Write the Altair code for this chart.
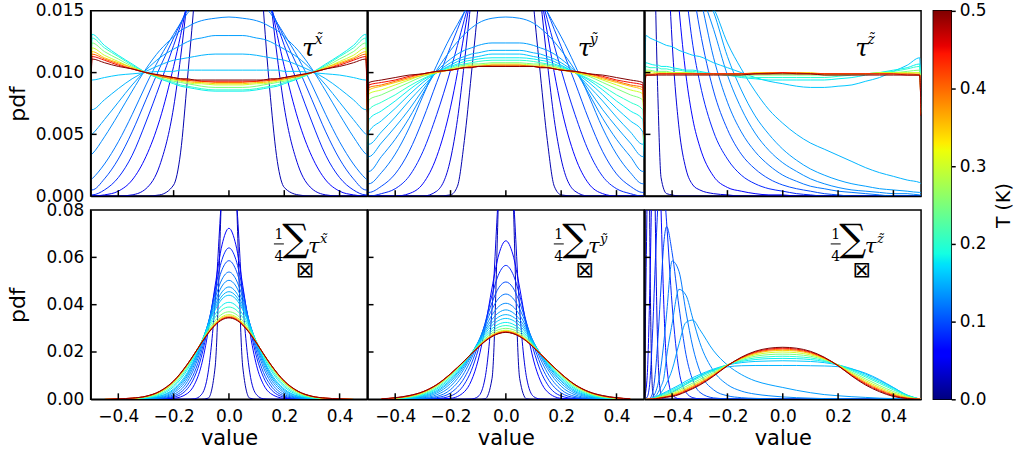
import altair as alt
import pandas as pd

# ---------------- data ----------------
T_VALUES = [0.02, 0.04, 0.06, 0.08, 0.10, 0.12, 0.13, 0.14, 0.15, 0.16,
            0.18, 0.20, 0.25, 0.30, 0.35, 0.40, 0.45, 0.50]

X_TOP = [-0.5, -0.495, -0.45, -0.4, -0.35, -0.3, -0.25, -0.2, -0.175, -0.15,
         -0.125, -0.1, -0.05, 0.0, 0.05, 0.1, 0.125, 0.15, 0.175, 0.2, 0.25,
         0.3, 0.35, 0.4, 0.45, 0.495, 0.5]

PDF_TAU_X = [
    [0, 0, 0, 0, 0, 0, 0.0001, 0.0009, 0.0035, 0.0095, 0.016, 0.024, 0.035, 0.04, 0.035, 0.024, 0.015, 0.008, 0.0028, 0.0007, 0.0001, 0, 0, 0, 0, 0, 0],
    [0, 0, 0, 0, 0.0001, 0.0006, 0.0025, 0.0072, 0.0112, 0.016, 0.021, 0.026, 0.033, 0.036, 0.033, 0.026, 0.021, 0.016, 0.0112, 0.0072, 0.0025, 0.0006, 0.0001, 0, 0, 0, 0],
    [0, 0, 0.0001, 0.0004, 0.0013, 0.0032, 0.0062, 0.0105, 0.013, 0.0158, 0.0185, 0.021, 0.026, 0.028, 0.026, 0.021, 0.0185, 0.0158, 0.013, 0.0105, 0.0062, 0.0032, 0.0013, 0.0004, 0.0001, 0, 0],
    [0.0001, 0.0001, 0.0005, 0.0015, 0.0033, 0.006, 0.009, 0.0122, 0.0138, 0.0154, 0.017, 0.0185, 0.021, 0.022, 0.021, 0.0185, 0.017, 0.0154, 0.0138, 0.0122, 0.009, 0.006, 0.0033, 0.0015, 0.0005, 0.0001, 0.0001],
    [0.0005, 0.0005, 0.0014, 0.003, 0.0052, 0.0078, 0.0104, 0.0128, 0.014, 0.0151, 0.0161, 0.017, 0.0184, 0.019, 0.0184, 0.017, 0.0161, 0.0151, 0.014, 0.0128, 0.0104, 0.0078, 0.0052, 0.003, 0.0014, 0.0005, 0.0005],
    [0.0013, 0.0014, 0.0026, 0.0044, 0.0066, 0.009, 0.0112, 0.0131, 0.014, 0.0148, 0.0155, 0.0161, 0.017, 0.0172, 0.017, 0.0161, 0.0155, 0.0148, 0.014, 0.0131, 0.0112, 0.009, 0.0066, 0.0044, 0.0026, 0.0014, 0.0013],
    [0.0033, 0.0034, 0.0048, 0.0066, 0.0085, 0.0103, 0.0118, 0.0129, 0.0134, 0.0137, 0.014, 0.0142, 0.0144, 0.0145, 0.0144, 0.0142, 0.014, 0.0137, 0.0134, 0.0129, 0.0118, 0.0103, 0.0085, 0.0066, 0.0048, 0.0034, 0.0033],
    [0.0049, 0.005, 0.0062, 0.0076, 0.009, 0.0102, 0.0112, 0.0119, 0.0122, 0.0125, 0.0127, 0.0128, 0.013, 0.013, 0.013, 0.0128, 0.0127, 0.0125, 0.0122, 0.0119, 0.0112, 0.0102, 0.009, 0.0076, 0.0062, 0.005, 0.0049],
    [0.007, 0.007, 0.0078, 0.0087, 0.0095, 0.0101, 0.0106, 0.011, 0.0111, 0.0112, 0.0113, 0.0114, 0.0115, 0.0115, 0.0115, 0.0114, 0.0113, 0.0112, 0.0111, 0.011, 0.0106, 0.0101, 0.0095, 0.0087, 0.0078, 0.007, 0.007],
    [0.0094, 0.0094, 0.0096, 0.0098, 0.0099, 0.01, 0.0101, 0.0101, 0.0102, 0.0102, 0.0102, 0.0102, 0.0102, 0.0102, 0.0102, 0.0102, 0.0102, 0.0102, 0.0102, 0.0101, 0.0101, 0.01, 0.0099, 0.0098, 0.0096, 0.0094, 0.0094],
    [0.0072, 0.0131, 0.0122, 0.0114, 0.0107, 0.01, 0.0095, 0.0091, 0.0089, 0.0088, 0.0087, 0.0086, 0.0085, 0.0085, 0.0085, 0.0086, 0.0087, 0.0088, 0.0089, 0.0091, 0.0095, 0.01, 0.0107, 0.0114, 0.0122, 0.0131, 0.0072],
    [0.0072, 0.0128, 0.012, 0.0113, 0.0106, 0.01, 0.0095, 0.0092, 0.009, 0.0089, 0.0088, 0.0087, 0.0086, 0.0086, 0.0086, 0.0087, 0.0088, 0.0089, 0.009, 0.0092, 0.0095, 0.01, 0.0106, 0.0113, 0.012, 0.0128, 0.0072],
    [0.0071, 0.0124, 0.0117, 0.0111, 0.0105, 0.01, 0.0096, 0.0093, 0.0092, 0.0091, 0.009, 0.0089, 0.0088, 0.0088, 0.0088, 0.0089, 0.009, 0.0091, 0.0092, 0.0093, 0.0096, 0.01, 0.0105, 0.0111, 0.0117, 0.0124, 0.0071],
    [0.007, 0.012, 0.0114, 0.0109, 0.0104, 0.01, 0.0097, 0.0094, 0.0093, 0.0092, 0.0091, 0.0091, 0.009, 0.009, 0.009, 0.0091, 0.0091, 0.0092, 0.0093, 0.0094, 0.0097, 0.01, 0.0104, 0.0109, 0.0114, 0.012, 0.007],
    [0.007, 0.0117, 0.0112, 0.0108, 0.0104, 0.01, 0.0097, 0.0095, 0.0094, 0.0093, 0.0092, 0.0092, 0.0091, 0.0091, 0.0091, 0.0092, 0.0092, 0.0093, 0.0094, 0.0095, 0.0097, 0.01, 0.0104, 0.0108, 0.0112, 0.0117, 0.007],
    [0.0069, 0.0115, 0.0111, 0.0107, 0.0103, 0.01, 0.0097, 0.0095, 0.0094, 0.0094, 0.0093, 0.0093, 0.0092, 0.0092, 0.0092, 0.0093, 0.0093, 0.0094, 0.0094, 0.0095, 0.0097, 0.01, 0.0103, 0.0107, 0.0111, 0.0115, 0.0069],
    [0.0069, 0.0113, 0.011, 0.0106, 0.0103, 0.01, 0.0098, 0.0096, 0.0095, 0.0094, 0.0094, 0.0093, 0.0093, 0.0093, 0.0093, 0.0093, 0.0094, 0.0094, 0.0095, 0.0096, 0.0098, 0.01, 0.0103, 0.0106, 0.011, 0.0113, 0.0069],
    [0.0068, 0.0111, 0.0108, 0.0105, 0.0103, 0.01, 0.0098, 0.0096, 0.0095, 0.0095, 0.0094, 0.0094, 0.0094, 0.0094, 0.0094, 0.0094, 0.0094, 0.0095, 0.0095, 0.0096, 0.0098, 0.01, 0.0103, 0.0105, 0.0108, 0.0111, 0.0068],
]

PDF_TAU_Y = [
    [0, 0, 0, 0, 0, 0, 0, 0.0001, 0.0008, 0.0045, 0.0098, 0.0155, 0.03, 0.036, 0.03, 0.0155, 0.0098, 0.0045, 0.0008, 0.0001, 0, 0, 0, 0, 0, 0, 0],
    [0, 0, 0, 0, 0, 0, 0.0004, 0.003, 0.0062, 0.0108, 0.016, 0.021, 0.029, 0.032, 0.029, 0.021, 0.016, 0.0108, 0.0062, 0.003, 0.0004, 0, 0, 0, 0, 0, 0],
    [0, 0, 0, 0, 0.0002, 0.001, 0.0032, 0.0072, 0.01, 0.0132, 0.0165, 0.02, 0.025, 0.027, 0.025, 0.02, 0.0165, 0.0132, 0.01, 0.0072, 0.0032, 0.001, 0.0002, 0, 0, 0, 0],
    [0, 0, 0.0002, 0.0006, 0.0016, 0.0036, 0.0066, 0.0102, 0.0122, 0.0143, 0.0163, 0.0182, 0.021, 0.022, 0.021, 0.0182, 0.0163, 0.0143, 0.0122, 0.0102, 0.0066, 0.0036, 0.0016, 0.0006, 0.0002, 0, 0],
    [0.0003, 0.0003, 0.0008, 0.0018, 0.0036, 0.0062, 0.0092, 0.0121, 0.0135, 0.0149, 0.0162, 0.0173, 0.019, 0.0195, 0.019, 0.0173, 0.0162, 0.0149, 0.0135, 0.0121, 0.0092, 0.0062, 0.0036, 0.0018, 0.0008, 0.0003, 0.0003],
    [0.001, 0.001, 0.0019, 0.0034, 0.0055, 0.0081, 0.0106, 0.0129, 0.0139, 0.0149, 0.0158, 0.0165, 0.0173, 0.0175, 0.0173, 0.0165, 0.0158, 0.0149, 0.0139, 0.0129, 0.0106, 0.0081, 0.0055, 0.0034, 0.0019, 0.001, 0.001],
    [0.002, 0.002, 0.0032, 0.0046, 0.0063, 0.0083, 0.0102, 0.0118, 0.0125, 0.0131, 0.0136, 0.014, 0.0144, 0.0145, 0.0144, 0.014, 0.0136, 0.0131, 0.0125, 0.0118, 0.0102, 0.0083, 0.0063, 0.0046, 0.0032, 0.002, 0.002],
    [0.0032, 0.0032, 0.0043, 0.0056, 0.007, 0.0086, 0.0101, 0.0111, 0.0115, 0.0118, 0.012, 0.0122, 0.0124, 0.0124, 0.0124, 0.0122, 0.012, 0.0118, 0.0115, 0.0111, 0.0101, 0.0086, 0.007, 0.0056, 0.0043, 0.0032, 0.0032],
    [0.0042, 0.0042, 0.0052, 0.0064, 0.0077, 0.0089, 0.01, 0.0108, 0.0111, 0.0113, 0.0115, 0.0116, 0.0118, 0.0118, 0.0118, 0.0116, 0.0115, 0.0113, 0.0111, 0.0108, 0.01, 0.0089, 0.0077, 0.0064, 0.0052, 0.0042, 0.0042],
    [0.003, 0.0052, 0.0061, 0.0071, 0.0082, 0.0092, 0.01, 0.0106, 0.0109, 0.0111, 0.0112, 0.0113, 0.0115, 0.0115, 0.0115, 0.0113, 0.0112, 0.0111, 0.0109, 0.0106, 0.01, 0.0092, 0.0082, 0.0071, 0.0061, 0.0052, 0.003],
    [0.0036, 0.0062, 0.0069, 0.0077, 0.0086, 0.0094, 0.01, 0.0105, 0.0107, 0.0109, 0.011, 0.0111, 0.0112, 0.0112, 0.0112, 0.0111, 0.011, 0.0109, 0.0107, 0.0105, 0.01, 0.0094, 0.0086, 0.0077, 0.0069, 0.0062, 0.0036],
    [0.004, 0.007, 0.0076, 0.0082, 0.0089, 0.0095, 0.01, 0.0104, 0.0106, 0.0107, 0.0108, 0.0109, 0.011, 0.011, 0.011, 0.0109, 0.0108, 0.0107, 0.0106, 0.0104, 0.01, 0.0095, 0.0089, 0.0082, 0.0076, 0.007, 0.004],
    [0.0044, 0.0078, 0.0082, 0.0087, 0.0092, 0.0097, 0.01, 0.0103, 0.0105, 0.0106, 0.0107, 0.0107, 0.0108, 0.0108, 0.0108, 0.0107, 0.0107, 0.0106, 0.0105, 0.0103, 0.01, 0.0097, 0.0092, 0.0087, 0.0082, 0.0078, 0.0044],
    [0.0046, 0.0083, 0.0086, 0.009, 0.0094, 0.0098, 0.01, 0.0103, 0.0104, 0.0105, 0.0106, 0.0106, 0.0107, 0.0107, 0.0107, 0.0106, 0.0106, 0.0105, 0.0104, 0.0103, 0.01, 0.0098, 0.0094, 0.009, 0.0086, 0.0083, 0.0046],
    [0.0048, 0.0086, 0.0089, 0.0092, 0.0095, 0.0098, 0.01, 0.0102, 0.0103, 0.0104, 0.0105, 0.0105, 0.0106, 0.0106, 0.0106, 0.0105, 0.0105, 0.0104, 0.0103, 0.0102, 0.01, 0.0098, 0.0095, 0.0092, 0.0089, 0.0086, 0.0048],
    [0.0049, 0.0088, 0.009, 0.0093, 0.0096, 0.0099, 0.0101, 0.0102, 0.0103, 0.0104, 0.0105, 0.0105, 0.0106, 0.0106, 0.0106, 0.0105, 0.0105, 0.0104, 0.0103, 0.0102, 0.0101, 0.0099, 0.0096, 0.0093, 0.009, 0.0088, 0.0049],
    [0.005, 0.009, 0.0092, 0.0094, 0.0097, 0.0099, 0.0101, 0.0102, 0.0103, 0.0104, 0.0104, 0.0105, 0.0105, 0.0105, 0.0105, 0.0105, 0.0104, 0.0104, 0.0103, 0.0102, 0.0101, 0.0099, 0.0097, 0.0094, 0.0092, 0.009, 0.005],
    [0.005, 0.0092, 0.0094, 0.0096, 0.0098, 0.0099, 0.0101, 0.0102, 0.0103, 0.0104, 0.0104, 0.0105, 0.0105, 0.0105, 0.0105, 0.0105, 0.0104, 0.0104, 0.0103, 0.0102, 0.0101, 0.0099, 0.0098, 0.0096, 0.0094, 0.0092, 0.005],
]

X_TZ = [-0.5, -0.495, -0.48, -0.46, -0.45, -0.44, -0.42, -0.4, -0.375, -0.35,
        -0.325, -0.3, -0.25, -0.2, -0.15, -0.1, -0.05, 0.0, 0.05, 0.1, 0.15,
        0.2, 0.25, 0.3, 0.35, 0.4, 0.45, 0.495, 0.5]

PDF_TAU_Z = [
    [0.08, 0.08, 0.05, 0.016, 0.007, 0.0015, 0.0002, 0.0001, 0, 0, 0, 0, 0, 0, 0, 0, 0, 0, 0, 0, 0, 0, 0, 0, 0, 0, 0, 0, 0],
    [0.08, 0.08, 0.07, 0.05, 0.042, 0.035, 0.022, 0.0125, 0.0055, 0.0022, 0.0009, 0.0005, 0.0002, 0.0001, 0, 0, 0, 0, 0, 0, 0, 0, 0, 0, 0, 0, 0, 0, 0],
    [0.08, 0.08, 0.07, 0.055, 0.048, 0.042, 0.031, 0.0225, 0.0152, 0.0098, 0.0062, 0.004, 0.0016, 0.0007, 0.0004, 0.0002, 0.0001, 0.0001, 0, 0, 0, 0, 0, 0, 0, 0, 0, 0, 0],
    [0.08, 0.08, 0.06, 0.045, 0.04, 0.035, 0.029, 0.025, 0.021, 0.0165, 0.0122, 0.0092, 0.0052, 0.003, 0.0017, 0.001, 0.0006, 0.0004, 0.0002, 0.0001, 0, 0, 0, 0, 0, 0, 0, 0, 0],
    [0.07, 0.07, 0.055, 0.045, 0.041, 0.037, 0.032, 0.028, 0.024, 0.02, 0.0168, 0.0135, 0.0085, 0.0054, 0.0034, 0.0022, 0.0014, 0.0009, 0.0006, 0.0004, 0.0002, 0.0001, 0, 0, 0, 0, 0, 0, 0],
    [0.06, 0.06, 0.048, 0.04, 0.037, 0.034, 0.03, 0.027, 0.0235, 0.0205, 0.0182, 0.0162, 0.0112, 0.0076, 0.0052, 0.0036, 0.0025, 0.0017, 0.0012, 0.0008, 0.0006, 0.0004, 0.0003, 0.0002, 0.0001, 0, 0, 0, 0],
    [0.055, 0.055, 0.045, 0.038, 0.035, 0.032, 0.029, 0.026, 0.023, 0.0205, 0.0185, 0.0168, 0.0135, 0.0098, 0.0071, 0.0051, 0.0037, 0.0027, 0.002, 0.0014, 0.001, 0.0007, 0.0005, 0.0004, 0.0003, 0.0002, 0.0002, 0.0001, 0.0001],
    [0.05, 0.05, 0.042, 0.036, 0.033, 0.031, 0.028, 0.025, 0.0225, 0.0205, 0.0185, 0.0172, 0.0149, 0.0113, 0.0086, 0.0065, 0.005, 0.0038, 0.0029, 0.0022, 0.0017, 0.0013, 0.001, 0.0008, 0.0006, 0.0005, 0.0004, 0.0003, 0.0003],
    [0.045, 0.045, 0.038, 0.033, 0.031, 0.029, 0.026, 0.024, 0.0215, 0.0195, 0.0178, 0.0165, 0.0152, 0.0124, 0.0103, 0.0085, 0.007, 0.0059, 0.005, 0.0043, 0.0038, 0.0033, 0.0028, 0.0023, 0.0019, 0.0016, 0.0013, 0.0011, 0.001],
    [0.0065, 0.013, 0.0128, 0.0126, 0.0125, 0.0124, 0.0122, 0.0121, 0.0118, 0.0116, 0.0114, 0.0113, 0.0108, 0.0104, 0.01, 0.0096, 0.0093, 0.0091, 0.0089, 0.0088, 0.0088, 0.0089, 0.009, 0.0093, 0.0096, 0.0101, 0.0106, 0.0112, 0.007],
    [0.0065, 0.0108, 0.0107, 0.0106, 0.0106, 0.0105, 0.0105, 0.0104, 0.0103, 0.0102, 0.0102, 0.0101, 0.0099, 0.0098, 0.0096, 0.0095, 0.0094, 0.0094, 0.0094, 0.0094, 0.0094, 0.0095, 0.0096, 0.0098, 0.01, 0.0102, 0.0104, 0.0107, 0.0068],
    [0.0065, 0.0105, 0.0104, 0.0104, 0.0104, 0.0103, 0.0103, 0.0102, 0.0102, 0.0101, 0.0101, 0.01, 0.0099, 0.0098, 0.0097, 0.0096, 0.0096, 0.0096, 0.0096, 0.0096, 0.0096, 0.0097, 0.0098, 0.0099, 0.01, 0.0101, 0.0103, 0.0105, 0.0068],
    [0.0064, 0.0102, 0.0102, 0.0101, 0.0101, 0.0101, 0.0101, 0.01, 0.01, 0.01, 0.01, 0.0099, 0.0099, 0.0098, 0.0098, 0.0098, 0.0098, 0.0098, 0.0098, 0.0098, 0.0098, 0.0098, 0.0099, 0.0099, 0.01, 0.01, 0.0101, 0.0102, 0.0067],
    [0.0063, 0.0101, 0.0101, 0.01, 0.01, 0.01, 0.01, 0.01, 0.01, 0.01, 0.0099, 0.0099, 0.0099, 0.0099, 0.0099, 0.0099, 0.0099, 0.0099, 0.0099, 0.0099, 0.0099, 0.0099, 0.0099, 0.0099, 0.01, 0.01, 0.01, 0.01, 0.0067],
    [0.0062, 0.0099, 0.0099, 0.0099, 0.0099, 0.0099, 0.0099, 0.0099, 0.0099, 0.0099, 0.0099, 0.0099, 0.0099, 0.0099, 0.0099, 0.01, 0.01, 0.01, 0.01, 0.01, 0.0099, 0.0099, 0.0099, 0.0099, 0.0099, 0.0099, 0.0099, 0.0099, 0.0066],
    [0.0061, 0.0098, 0.0098, 0.0099, 0.0099, 0.0099, 0.0099, 0.0099, 0.0099, 0.0099, 0.0099, 0.0099, 0.0099, 0.0099, 0.0099, 0.0099, 0.01, 0.01, 0.01, 0.0099, 0.0099, 0.0099, 0.0099, 0.0099, 0.0099, 0.0099, 0.0099, 0.0098, 0.0066],
    [0.006, 0.0098, 0.0098, 0.0098, 0.0099, 0.0099, 0.0099, 0.0099, 0.0099, 0.0099, 0.0099, 0.0099, 0.0099, 0.0099, 0.0099, 0.0099, 0.0099, 0.01, 0.0099, 0.0099, 0.0099, 0.0099, 0.0099, 0.0099, 0.0099, 0.0099, 0.0098, 0.0098, 0.0065],
    [0.006, 0.0098, 0.0098, 0.0098, 0.0098, 0.0098, 0.0098, 0.0098, 0.0098, 0.0098, 0.0098, 0.0098, 0.0098, 0.0098, 0.0098, 0.0099, 0.0099, 0.0099, 0.0099, 0.0099, 0.0098, 0.0098, 0.0098, 0.0098, 0.0098, 0.0098, 0.0098, 0.0098, 0.0065],
]

X_SUM = [-0.45, -0.4, -0.35, -0.3, -0.25, -0.2, -0.15, -0.125, -0.1, -0.075,
         -0.05, -0.025, 0.0, 0.025, 0.05, 0.075, 0.1, 0.125, 0.15, 0.2, 0.25,
         0.3, 0.35, 0.4, 0.45]

PDF_SUM_X = [
    [0, 0, 0, 0, 0, 0, 0, 0, 0, 0.0005, 0.0136, 0.094, 0.18, 0.094, 0.0136, 0.0005, 0, 0, 0, 0, 0, 0, 0, 0, 0],
    [0, 0, 0, 0, 0, 0, 0, 0.0002, 0.0019, 0.0115, 0.041, 0.088, 0.114, 0.088, 0.041, 0.0115, 0.0019, 0.0002, 0, 0, 0, 0, 0, 0, 0],
    [0, 0, 0, 0, 0.0001, 0.0004, 0.0025, 0.0062, 0.0142, 0.0288, 0.048, 0.0653, 0.0723, 0.0653, 0.048, 0.0288, 0.0142, 0.0062, 0.0025, 0.0004, 0.0001, 0, 0, 0, 0],
    [0, 0, 0, 0.0001, 0.0002, 0.0009, 0.0045, 0.0093, 0.0178, 0.031, 0.0464, 0.0591, 0.064, 0.0591, 0.0464, 0.031, 0.0178, 0.0093, 0.0045, 0.0009, 0.0002, 0.0001, 0, 0, 0],
    [0, 0, 0, 0.0001, 0.0003, 0.0014, 0.006, 0.0113, 0.02, 0.0319, 0.0447, 0.0548, 0.0586, 0.0548, 0.0447, 0.0319, 0.02, 0.0113, 0.006, 0.0014, 0.0003, 0.0001, 0, 0, 0],
    [0, 0, 0, 0.0001, 0.0005, 0.002, 0.0075, 0.0133, 0.0217, 0.0322, 0.0428, 0.0508, 0.0538, 0.0508, 0.0428, 0.0322, 0.0217, 0.0133, 0.0075, 0.002, 0.0005, 0.0001, 0, 0, 0],
    [0, 0, 0.0001, 0.0002, 0.0007, 0.0027, 0.0088, 0.0147, 0.0228, 0.0322, 0.0412, 0.0479, 0.0503, 0.0479, 0.0412, 0.0322, 0.0228, 0.0147, 0.0088, 0.0027, 0.0007, 0.0002, 0.0001, 0, 0],
    [0, 0, 0.0001, 0.0003, 0.0009, 0.0033, 0.0099, 0.0158, 0.0234, 0.0319, 0.0398, 0.0454, 0.0475, 0.0454, 0.0398, 0.0319, 0.0234, 0.0158, 0.0099, 0.0033, 0.0009, 0.0003, 0.0001, 0, 0],
    [0, 0, 0.0001, 0.0004, 0.0012, 0.0039, 0.0107, 0.0166, 0.0238, 0.0316, 0.0387, 0.0437, 0.0455, 0.0437, 0.0387, 0.0316, 0.0238, 0.0166, 0.0107, 0.0039, 0.0012, 0.0004, 0.0001, 0, 0],
    [0, 0, 0.0001, 0.0005, 0.0014, 0.0044, 0.0114, 0.0171, 0.024, 0.0313, 0.0378, 0.0424, 0.044, 0.0424, 0.0378, 0.0313, 0.024, 0.0171, 0.0114, 0.0044, 0.0014, 0.0005, 0.0001, 0, 0],
    [0, 0.0001, 0.0002, 0.0006, 0.0018, 0.0053, 0.0126, 0.018, 0.0242, 0.0305, 0.0359, 0.0397, 0.041, 0.0397, 0.0359, 0.0305, 0.0242, 0.018, 0.0126, 0.0053, 0.0018, 0.0006, 0.0002, 0.0001, 0],
    [0, 0.0001, 0.0002, 0.0007, 0.0022, 0.006, 0.0134, 0.0185, 0.0242, 0.0298, 0.0346, 0.0379, 0.039, 0.0379, 0.0346, 0.0298, 0.0242, 0.0185, 0.0134, 0.006, 0.0022, 0.0007, 0.0002, 0.0001, 0],
    [0, 0.0001, 0.0003, 0.0009, 0.0027, 0.0068, 0.0141, 0.0189, 0.0241, 0.029, 0.0332, 0.036, 0.037, 0.036, 0.0332, 0.029, 0.0241, 0.0189, 0.0141, 0.0068, 0.0027, 0.0009, 0.0003, 0.0001, 0],
    [0, 0.0001, 0.0004, 0.0011, 0.003, 0.0072, 0.0145, 0.0191, 0.0239, 0.0285, 0.0324, 0.0349, 0.0358, 0.0349, 0.0324, 0.0285, 0.0239, 0.0191, 0.0145, 0.0072, 0.003, 0.0011, 0.0004, 0.0001, 0],
    [0, 0.0002, 0.0004, 0.0012, 0.0032, 0.0075, 0.0147, 0.0191, 0.0238, 0.0283, 0.0319, 0.0344, 0.0352, 0.0344, 0.0319, 0.0283, 0.0238, 0.0191, 0.0147, 0.0075, 0.0032, 0.0012, 0.0004, 0.0002, 0],
    [0, 0.0002, 0.0005, 0.0012, 0.0033, 0.0076, 0.0148, 0.0192, 0.0238, 0.0281, 0.0316, 0.034, 0.0348, 0.034, 0.0316, 0.0281, 0.0238, 0.0192, 0.0148, 0.0076, 0.0033, 0.0012, 0.0005, 0.0002, 0],
    [0, 0.0002, 0.0005, 0.0013, 0.0034, 0.0077, 0.0149, 0.0192, 0.0238, 0.028, 0.0315, 0.0338, 0.0346, 0.0338, 0.0315, 0.028, 0.0238, 0.0192, 0.0149, 0.0077, 0.0034, 0.0013, 0.0005, 0.0002, 0],
    [0, 0.0002, 0.0005, 0.0013, 0.0034, 0.0078, 0.0149, 0.0192, 0.0237, 0.0279, 0.0313, 0.0336, 0.0344, 0.0336, 0.0313, 0.0279, 0.0237, 0.0192, 0.0149, 0.0078, 0.0034, 0.0013, 0.0005, 0.0002, 0],
]

PDF_SUM_Y = [
    [0, 0, 0, 0, 0, 0, 0, 0, 0, 0.0002, 0.0088, 0.0916, 0.2, 0.0916, 0.0088, 0.0002, 0, 0, 0, 0, 0, 0, 0, 0, 0],
    [0, 0, 0, 0, 0, 0, 0, 0.0001, 0.0012, 0.0091, 0.038, 0.09, 0.12, 0.09, 0.038, 0.0091, 0.0012, 0.0001, 0, 0, 0, 0, 0, 0, 0],
    [0, 0, 0, 0, 0.0001, 0.0004, 0.0032, 0.0078, 0.0166, 0.0303, 0.0471, 0.0614, 0.067, 0.0614, 0.0471, 0.0303, 0.0166, 0.0078, 0.0032, 0.0004, 0.0001, 0, 0, 0, 0],
    [0, 0, 0, 0.0001, 0.0003, 0.0014, 0.0064, 0.0121, 0.0209, 0.0321, 0.044, 0.0531, 0.0566, 0.0531, 0.044, 0.0321, 0.0209, 0.0121, 0.0064, 0.0014, 0.0003, 0.0001, 0, 0, 0],
    [0, 0, 0.0001, 0.0002, 0.0007, 0.0027, 0.0091, 0.015, 0.023, 0.0321, 0.0409, 0.0473, 0.0496, 0.0473, 0.0409, 0.0321, 0.023, 0.015, 0.0091, 0.0027, 0.0007, 0.0002, 0.0001, 0, 0],
    [0, 0.0001, 0.0002, 0.0004, 0.0012, 0.0041, 0.0113, 0.0171, 0.024, 0.0314, 0.0381, 0.0428, 0.0445, 0.0428, 0.0381, 0.0314, 0.024, 0.0171, 0.0113, 0.0041, 0.0012, 0.0004, 0.0002, 0.0001, 0],
    [0, 0.0001, 0.0002, 0.0006, 0.0019, 0.0055, 0.013, 0.0183, 0.0243, 0.0303, 0.0357, 0.0393, 0.0406, 0.0393, 0.0357, 0.0303, 0.0243, 0.0183, 0.013, 0.0055, 0.0019, 0.0006, 0.0002, 0.0001, 0],
    [0, 0.0001, 0.0003, 0.0009, 0.0026, 0.0067, 0.014, 0.019, 0.0242, 0.0294, 0.0338, 0.0367, 0.0378, 0.0367, 0.0338, 0.0294, 0.0242, 0.019, 0.014, 0.0067, 0.0026, 0.0009, 0.0003, 0.0001, 0],
    [0, 0.0002, 0.0004, 0.0012, 0.0032, 0.0076, 0.0147, 0.0192, 0.024, 0.0286, 0.0324, 0.0349, 0.0358, 0.0349, 0.0324, 0.0286, 0.024, 0.0192, 0.0147, 0.0076, 0.0032, 0.0012, 0.0004, 0.0002, 0],
    [0, 0.0002, 0.0005, 0.0015, 0.0037, 0.0082, 0.0151, 0.0194, 0.0237, 0.0278, 0.0312, 0.0334, 0.0342, 0.0334, 0.0312, 0.0278, 0.0237, 0.0194, 0.0151, 0.0082, 0.0037, 0.0015, 0.0005, 0.0002, 0],
    [0.0001, 0.0003, 0.0007, 0.0018, 0.0043, 0.0089, 0.0155, 0.0194, 0.0233, 0.027, 0.0299, 0.0318, 0.0325, 0.0318, 0.0299, 0.027, 0.0233, 0.0194, 0.0155, 0.0089, 0.0043, 0.0018, 0.0007, 0.0003, 0.0001],
    [0.0001, 0.0003, 0.0008, 0.0021, 0.0048, 0.0095, 0.0158, 0.0194, 0.023, 0.0263, 0.0289, 0.0306, 0.0312, 0.0306, 0.0289, 0.0263, 0.023, 0.0194, 0.0158, 0.0095, 0.0048, 0.0021, 0.0008, 0.0003, 0.0001],
    [0.0001, 0.0004, 0.001, 0.0025, 0.0054, 0.0101, 0.0161, 0.0193, 0.0226, 0.0256, 0.028, 0.0295, 0.03, 0.0295, 0.028, 0.0256, 0.0226, 0.0193, 0.0161, 0.0101, 0.0054, 0.0025, 0.001, 0.0004, 0.0001],
    [0.0001, 0.0005, 0.0012, 0.0028, 0.0058, 0.0104, 0.0162, 0.0193, 0.0223, 0.0251, 0.0273, 0.0287, 0.0292, 0.0287, 0.0273, 0.0251, 0.0223, 0.0193, 0.0162, 0.0104, 0.0058, 0.0028, 0.0012, 0.0005, 0.0001],
    [0.0001, 0.0005, 0.0013, 0.003, 0.006, 0.0106, 0.0162, 0.0192, 0.0222, 0.0249, 0.027, 0.0283, 0.0288, 0.0283, 0.027, 0.0249, 0.0222, 0.0192, 0.0162, 0.0106, 0.006, 0.003, 0.0013, 0.0005, 0.0001],
    [0.0002, 0.0006, 0.0014, 0.0031, 0.0061, 0.0107, 0.0163, 0.0192, 0.0221, 0.0247, 0.0268, 0.0281, 0.0286, 0.0281, 0.0268, 0.0247, 0.0221, 0.0192, 0.0163, 0.0107, 0.0061, 0.0031, 0.0014, 0.0006, 0.0002],
    [0.0002, 0.0006, 0.0015, 0.0032, 0.0062, 0.0108, 0.0163, 0.0192, 0.022, 0.0246, 0.0266, 0.0279, 0.0284, 0.0279, 0.0266, 0.0246, 0.022, 0.0192, 0.0163, 0.0108, 0.0062, 0.0032, 0.0015, 0.0006, 0.0002],
    [0.0002, 0.0007, 0.0016, 0.0032, 0.0062, 0.0108, 0.0163, 0.0192, 0.0219, 0.0245, 0.0265, 0.0278, 0.0283, 0.0278, 0.0265, 0.0245, 0.0219, 0.0192, 0.0163, 0.0108, 0.0062, 0.0032, 0.0016, 0.0007, 0.0002],
]

X_SZ = [-0.5, -0.49, -0.48, -0.47, -0.46, -0.45, -0.44, -0.43, -0.42, -0.4,
        -0.375, -0.35, -0.325, -0.3, -0.25, -0.2, -0.15, -0.1, -0.05, 0.0,
        0.05, 0.1, 0.15, 0.2, 0.25, 0.3, 0.35, 0.4, 0.45, 0.5]

PDF_SUM_Z = [
    [0.02, 0.3, 0.06, 0.003, 0, 0, 0, 0, 0, 0, 0, 0, 0, 0, 0, 0, 0, 0, 0, 0, 0, 0, 0, 0, 0, 0, 0, 0, 0, 0],
    [0.005, 0.09, 0.2, 0.17, 0.07, 0.015, 0.002, 0, 0, 0, 0, 0, 0, 0, 0, 0, 0, 0, 0, 0, 0, 0, 0, 0, 0, 0, 0, 0, 0, 0],
    [0.0005, 0.01, 0.05, 0.11, 0.135, 0.12, 0.08, 0.04, 0.015, 0.002, 0.0002, 0, 0, 0, 0, 0, 0, 0, 0, 0, 0, 0, 0, 0, 0, 0, 0, 0, 0, 0],
    [0, 0.001, 0.008, 0.03, 0.06, 0.085, 0.095, 0.09, 0.075, 0.04, 0.012, 0.003, 0.0007, 0.0002, 0, 0, 0, 0, 0, 0, 0, 0, 0, 0, 0, 0, 0, 0, 0, 0],
    [0, 0, 0.0005, 0.003, 0.012, 0.028, 0.048, 0.066, 0.073, 0.062, 0.039, 0.019, 0.008, 0.003, 0.0006, 0.0002, 0.0001, 0, 0, 0, 0, 0, 0, 0, 0, 0, 0, 0, 0, 0],
    [0, 0, 0.0002, 0.001, 0.003, 0.007, 0.014, 0.024, 0.036, 0.0585, 0.054, 0.037, 0.022, 0.012, 0.004, 0.0015, 0.0007, 0.0004, 0.0002, 0.0001, 0, 0, 0, 0, 0, 0, 0, 0, 0, 0],
    [0, 0, 0.0001, 0.0005, 0.0013, 0.003, 0.0055, 0.009, 0.018, 0.032, 0.0465, 0.044, 0.034, 0.024, 0.012, 0.0062, 0.0035, 0.0022, 0.0015, 0.001, 0.0007, 0.0005, 0.0003, 0.0002, 0.0001, 0, 0, 0, 0, 0],
    [0, 0, 0, 0.0003, 0.0008, 0.0015, 0.0028, 0.0045, 0.0068, 0.0125, 0.0235, 0.0325, 0.0335, 0.0295, 0.0205, 0.0145, 0.0105, 0.0078, 0.0062, 0.005, 0.0038, 0.0028, 0.002, 0.0015, 0.0011, 0.0008, 0.0005, 0.0003, 0.0001, 0],
    [0, 0, 0.0001, 0.0002, 0.0004, 0.0007, 0.001, 0.0014, 0.0019, 0.003, 0.0046, 0.0064, 0.0082, 0.0098, 0.0124, 0.0137, 0.0142, 0.0143, 0.0143, 0.0143, 0.0143, 0.0142, 0.0141, 0.0138, 0.0128, 0.011, 0.0083, 0.005, 0.0017, 0],
    [0, 0, 0.0002, 0.0005, 0.0009, 0.0016, 0.0021, 0.0027, 0.0033, 0.0045, 0.006, 0.0077, 0.0092, 0.0105, 0.0128, 0.0145, 0.0155, 0.016, 0.0162, 0.0163, 0.0162, 0.016, 0.0155, 0.0145, 0.0129, 0.0106, 0.0079, 0.0049, 0.0018, 0],
    [0, 0, 0.0002, 0.0005, 0.0008, 0.0014, 0.0019, 0.0024, 0.0029, 0.004, 0.0054, 0.007, 0.0085, 0.0099, 0.0124, 0.0146, 0.016, 0.0168, 0.0172, 0.0173, 0.0172, 0.0168, 0.016, 0.0146, 0.0125, 0.01, 0.0073, 0.0045, 0.0017, 0],
    [0, 0, 0.0002, 0.0004, 0.0007, 0.0012, 0.0016, 0.002, 0.0025, 0.0035, 0.0048, 0.0063, 0.0078, 0.0092, 0.012, 0.0146, 0.0164, 0.0175, 0.018, 0.0182, 0.018, 0.0175, 0.0164, 0.0146, 0.0121, 0.0094, 0.0067, 0.004, 0.0015, 0],
    [0, 0, 0.0001, 0.0003, 0.0005, 0.0009, 0.0012, 0.0016, 0.002, 0.0028, 0.004, 0.0054, 0.0069, 0.0084, 0.0114, 0.0146, 0.0168, 0.0182, 0.0189, 0.0191, 0.0189, 0.0182, 0.0168, 0.0146, 0.0115, 0.0086, 0.0058, 0.0033, 0.0012, 0],
    [0, 0, 0.0001, 0.0002, 0.0004, 0.0007, 0.001, 0.0013, 0.0016, 0.0023, 0.0034, 0.0047, 0.0062, 0.0077, 0.0109, 0.0145, 0.0171, 0.0188, 0.0197, 0.02, 0.0197, 0.0188, 0.0171, 0.0145, 0.011, 0.0079, 0.0051, 0.0027, 0.0009, 0],
    [0, 0, 0.0001, 0.0002, 0.0003, 0.0006, 0.0008, 0.001, 0.0013, 0.0019, 0.0029, 0.0042, 0.0056, 0.0071, 0.0105, 0.0144, 0.0173, 0.0193, 0.0204, 0.0207, 0.0204, 0.0193, 0.0173, 0.0144, 0.0106, 0.0073, 0.0045, 0.0022, 0.0007, 0],
    [0, 0, 0.0001, 0.0002, 0.0003, 0.0005, 0.0007, 0.0009, 0.0011, 0.0016, 0.0025, 0.0038, 0.0052, 0.0067, 0.0102, 0.0143, 0.0175, 0.0197, 0.0208, 0.0212, 0.0208, 0.0197, 0.0175, 0.0143, 0.0103, 0.0068, 0.004, 0.0018, 0.0005, 0],
    [0, 0, 0.0001, 0.0001, 0.0002, 0.0004, 0.0006, 0.0008, 0.001, 0.0014, 0.0022, 0.0035, 0.0048, 0.0063, 0.01, 0.0142, 0.0176, 0.02, 0.0212, 0.0216, 0.0212, 0.02, 0.0176, 0.0142, 0.01, 0.0064, 0.0036, 0.0015, 0.0004, 0],
    [0, 0, 0.0001, 0.0001, 0.0002, 0.0003, 0.0005, 0.0007, 0.0009, 0.0012, 0.002, 0.0032, 0.0045, 0.006, 0.0098, 0.0142, 0.0178, 0.0203, 0.0216, 0.022, 0.0216, 0.0203, 0.0178, 0.0142, 0.0098, 0.006, 0.0032, 0.0012, 0.0003, 0],
]

X_TICKS = [-0.4, -0.2, 0.0, 0.2, 0.4]
Y_TICKS_TOP = [0.0, 0.005, 0.010, 0.015]
Y_TICKS_BOT = [0.0, 0.02, 0.04, 0.06, 0.08]
CBAR_TICKS = [0.0, 0.1, 0.2, 0.3, 0.4, 0.5]

# jet colormap anchor points (position in [0, 1], colour)
JET_POS = [0.0, 0.11, 0.125, 0.34, 0.35, 0.375, 0.64, 0.66, 0.89, 0.91, 1.0]
JET_COL = ['#000080', '#0000ff', '#0000ff', '#00dbff', '#00e5f8', '#14ffe2',
           '#eeff08', '#ffec00', '#ff1300', '#e80000', '#800000']
T_MAX = 0.5

# ---------------- styling / layout ----------------
SANS = 'DejaVu Sans'
SERIF = 'DejaVu Serif'
PANEL_W = 277.7
H_TOP = 186
H_BOT = 190
ROW_GAP = 14
ONE = pd.DataFrame({'k': [0]})

COLOR_SCALE = alt.Scale(domain=[p * T_MAX for p in JET_POS], range=JET_COL,
                        interpolate='rgb')


def long_table(xs, curves):
    assert len(curves) == len(T_VALUES)
    rows = []
    for t, ys in zip(T_VALUES, curves):
        assert len(ys) == len(xs), (t, len(ys), len(xs))
        for x, y in zip(xs, ys):
            rows.append({'x': x, 'y': y, 'T': t})
    return pd.DataFrame(rows)


def txt(s, x, y, size, font=SERIF, style='normal', baseline='alphabetic'):
    return alt.Chart(ONE).mark_text(
        text=s, font=font, fontSize=size, fontStyle=style, baseline=baseline,
        align='center', color='black'
    ).encode(x=alt.value(x), y=alt.value(y))


def bar(x1, x2, y):
    return alt.Chart(ONE).mark_rule(color='black', strokeWidth=1).encode(
        x=alt.value(x1), x2=alt.value(x2), y=alt.value(y))


def top_note(sup, xt, xs):
    return [txt('τ', xt, 45, 25, style='italic'),
            txt(sup, xs, 33, 14, style='italic')]


def bot_note(sup, dx):
    return [txt('1', 191 + dx, 29, 14),
            bar(186 + dx, 196 + dx, 34),
            txt('4', 191 + dx, 51, 14),
            txt('∑', 208 + dx, 30, 38, baseline='middle'),
            txt('τ', 226 + dx, 43, 21, style='italic'),
            txt(sup, 236 + dx, 33, 13, style='italic'),
            txt('⊠', 217 + dx, 60, 22, font=SANS, baseline='middle')]


def panel(xs, curves, ydom, yvals, yfmt, row, col, notes, height):
    xscale = alt.Scale(domain=[-0.5, 0.5], nice=False, zero=False)
    yscale = alt.Scale(domain=ydom, nice=False, zero=False)
    if row == 1:
        xaxis = alt.Axis(values=X_TICKS, format='.1f', ticks=False, grid=False,
                         domainColor='black', domainWidth=1.5,
                         labelFont=SANS, labelFontSize=17, labelColor='black',
                         labelPadding=9, title='value', titleFont=SANS,
                         titleFontSize=21, titleFontWeight='normal',
                         titleColor='black', titlePadding=3, zindex=1)
    else:
        xaxis = alt.Axis(labels=False, ticks=False, grid=False,
                         domainColor='black', domainWidth=1.5, title=None,
                         minExtent=0, maxExtent=0, zindex=1)
    if col == 0:
        yaxis = alt.Axis(values=yvals, format=yfmt, ticks=False, grid=False,
                         domainColor='black', domainWidth=1.5,
                         labelFont=SANS, labelFontSize=17, labelColor='black',
                         labelPadding=7, title='pdf', titleFont=SANS,
                         titleFontSize=22, titleFontWeight='normal',
                         titleColor='black', titlePadding=11.5,
                         minExtent=50, maxExtent=50, zindex=1)
    else:
        yaxis = alt.Axis(labels=False, ticks=False, grid=False,
                         domainColor='black', domainWidth=1.5, title=None,
                         minExtent=0, maxExtent=0, zindex=1)
    X = alt.X('x:Q', scale=xscale, axis=xaxis)
    Y = alt.Y('y:Q', scale=yscale, axis=yaxis)
    lines = alt.Chart(long_table(xs, curves)).mark_line(
        clip=True, strokeWidth=1, interpolate='monotone'
    ).encode(
        x=X, y=Y,
        color=alt.Color('T:Q', scale=COLOR_SCALE, legend=None),
        detail='T:N',
    )
    # inward tick marks (same field names / axes so the axes merge cleanly)
    xt = alt.Chart(pd.DataFrame({'x': X_TICKS})).mark_rule(
        color='black', strokeWidth=1.5
    ).encode(x=X, y=alt.value(height), y2=alt.value(height - 6))
    yt = alt.Chart(pd.DataFrame({'y': yvals[1:-1]})).mark_rule(
        color='black', strokeWidth=1.5
    ).encode(y=Y, x=alt.value(0), x2=alt.value(6))
    return alt.layer(lines, xt, yt, *notes).properties(width=PANEL_W, height=height)


pA = panel(X_TOP, PDF_TAU_X, [0, 0.015], Y_TICKS_TOP, '.3f', 0, 0,
           top_note('x\u0303', 219, 229), H_TOP)
pB = panel(X_TOP, PDF_TAU_Y, [0, 0.015], Y_TICKS_TOP, '.3f', 0, 1,
           top_note('\u1ef9', 218, 227), H_TOP)
pC = panel(X_TZ, PDF_TAU_Z, [0, 0.015], Y_TICKS_TOP, '.3f', 0, 2,
           top_note('z\u0303', 218.5, 227.5), H_TOP)
pD = panel(X_SUM, PDF_SUM_X, [0, 0.08], Y_TICKS_BOT, '.2f', 1, 0,
           bot_note('x\u0303', -2), H_BOT)
pE = panel(X_SUM, PDF_SUM_Y, [0, 0.08], Y_TICKS_BOT, '.2f', 1, 1,
           bot_note('\u1ef9', 1), H_BOT)
pF = panel(X_SZ, PDF_SUM_Z, [0, 0.08], Y_TICKS_BOT, '.2f', 1, 2,
           bot_note('z\u0303', 1), H_BOT)

CB_W = 18
CB_H = H_TOP + ROW_GAP + H_BOT
gradient = alt.LinearGradient(
    gradient='linear',
    stops=[alt.GradientStop(offset=p, color=c) for p, c in zip(JET_POS, JET_COL)],
    x1=0, x2=0, y1=1, y2=0)
cbar = alt.Chart(pd.DataFrame({'lo': [0.0], 'hi': [T_MAX]})).mark_rect(
    color=gradient
).encode(
    y=alt.Y('lo:Q', scale=alt.Scale(domain=[0, T_MAX], nice=False),
            axis=alt.Axis(orient='right', values=CBAR_TICKS, format='.1f',
                          ticks=True, tickSize=4, tickColor='black', tickWidth=1.5,
                          domain=False, grid=False, labelFont=SANS,
                          labelFontSize=17, labelColor='black', labelPadding=4,
                          title='T (K)', titleFont=SANS, titleFontSize=19,
                          titleFontWeight='normal', titleColor='black',
                          titleAngle=270, titleBaseline='top', titlePadding=8)),
    y2='hi:Q',
    x=alt.value(0), x2=alt.value(CB_W),
).properties(width=CB_W, height=CB_H)

grid = alt.concat(pA, pB, pC, pD, pE, pF, columns=3,
                  spacing={'row': ROW_GAP, 'column': 0}, bounds='flush')

chart = alt.hconcat(grid, cbar, spacing=10).properties(
    padding={'left': 5, 'top': 0, 'right': 0, 'bottom': 0},
    background='white',
).configure_view(stroke='black', strokeWidth=1.5)

chart.save('out.html', embed_options={'renderer': 'svg', 'actions': False})
